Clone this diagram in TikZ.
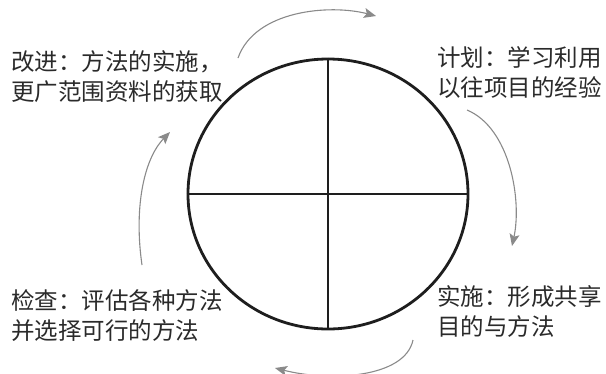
\documentclass[tikz,border=0pt]{standalone}
\usepackage{fontspec}
\newfontfamily\cjk{Noto Sans CJK SC}
\usetikzlibrary{arrows.meta,shapes.geometric}
\definecolor{arrowgray}{HTML}{8A8A8A}
\definecolor{ink}{HTML}{1E1E1E}
\definecolor{textink}{HTML}{2A2A2A}
\tikzset{
  label/.style={font=\cjk\fontsize{23.5}{30}\selectfont, text=textink, inner sep=0pt, align=left, anchor=west},
  cyclearrow/.style={draw=arrowgray, line width=1.1pt, -{Stealth[length=12pt,width=10pt,inset=2.5pt]}},
}
\begin{document}
\begin{tikzpicture}[x=1pt,y=-1pt]
\useasboundingbox (0,0) rectangle (606,373);
% ellipse
\node[draw=ink, line width=2.8pt, ellipse, minimum width=280pt, minimum height=270pt, inner sep=0pt] (wheel) at (328,194) {};
\draw[ink, line width=1.3pt] (wheel.north) -- (wheel.south);
\draw[ink, line width=1.3pt] (wheel.west) -- (wheel.east);
% labels
\node[label] (improve) at (11,77) {改进：方法的实施，\\更广范围资料的获取};
\node[label] (plan) at (437,73) {计划：学习利用\\以往项目的经验};
\node[label] (do) at (437,312) {实施：形成共享\\目的与方法};
\node[label] (check) at (11,316) {检查：评估各种方法\\并选择可行的方法};
% arrows
\coordinate (a1s) at (238,58);
\coordinate (a1e) at (376,16);
\coordinate (a2s) at (467,110);
\coordinate (a2e) at (512,246);
\coordinate (a3s) at (413,340);
\coordinate (a3e) at (275,368);
\coordinate (a4s) at (142,265);
\coordinate (a4e) at (170,132);
\draw[cyclearrow] (a1s) .. controls (255,10) and (330,4) .. (a1e);
\draw[cyclearrow] (a2s) .. controls (510,128) and (522,200) .. (a2e);
\draw[cyclearrow] (a3s) .. controls (405,378) and (330,382) .. (a3e);
\draw[cyclearrow] (a4s) .. controls (134,210) and (143,160) .. (a4e);
\end{tikzpicture}
\end{document}
